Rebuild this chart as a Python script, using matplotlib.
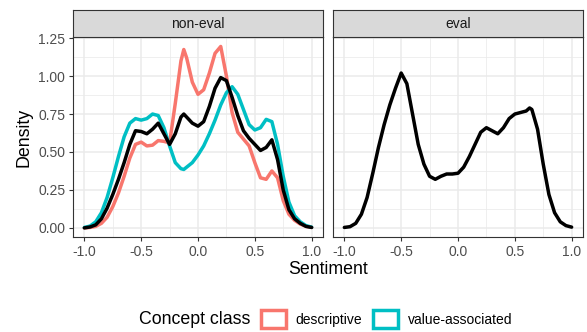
import numpy as np
import matplotlib.pyplot as plt
from matplotlib.patches import Patch

plt.rcParams['font.family'] = ['Liberation Sans', 'DejaVu Sans']

x_ne = [-1.0, -0.95, -0.9, -0.85, -0.8, -0.75, -0.7, -0.65, -0.6, -0.55, -0.5,
        -0.45, -0.4, -0.35, -0.3, -0.25, -0.2, -0.15, -0.125, -0.1, -0.05, 0.0,
        0.05, 0.1, 0.15, 0.2, 0.25, 0.3, 0.35, 0.4, 0.45, 0.5, 0.55, 0.6, 0.65,
        0.7, 0.75, 0.8, 0.85, 0.9, 0.95, 1.0]
descriptive = [0.0, 0.003, 0.01, 0.03, 0.07, 0.14, 0.23, 0.34, 0.46, 0.55, 0.565,
               0.54, 0.545, 0.575, 0.57, 0.56, 0.82, 1.10, 1.175, 1.12, 0.96, 0.88,
               0.91, 1.02, 1.15, 1.195, 1.0, 0.76, 0.63, 0.585, 0.54, 0.43, 0.33, 0.32, 0.375,
               0.33, 0.18, 0.09, 0.05, 0.025, 0.01, 0.003]
value_assoc = [0.003, 0.012, 0.04, 0.1, 0.2, 0.33, 0.47, 0.6, 0.69, 0.72, 0.71,
               0.72, 0.75, 0.74, 0.66, 0.54, 0.43, 0.39, 0.385, 0.40, 0.43, 0.48,
               0.54, 0.62, 0.71, 0.81, 0.89, 0.93, 0.88, 0.78, 0.68, 0.645, 0.66, 0.715, 0.70,
               0.55, 0.34, 0.17, 0.08, 0.04, 0.015, 0.005]
all_ne = [0.0, 0.006, 0.02, 0.06, 0.13, 0.22, 0.32, 0.43, 0.55, 0.64, 0.635,
          0.62, 0.65, 0.69, 0.62, 0.55, 0.62, 0.73, 0.75, 0.73, 0.69, 0.67,
          0.70, 0.80, 0.92, 0.99, 0.97, 0.86, 0.74, 0.64, 0.59, 0.55, 0.51, 0.53, 0.58,
          0.45, 0.25, 0.12, 0.06, 0.03, 0.01, 0.003]

x_ev = [-1.0, -0.95, -0.9, -0.85, -0.8, -0.75, -0.7, -0.65, -0.6, -0.55, -0.5,
        -0.45, -0.4, -0.35, -0.3, -0.25, -0.2, -0.15, -0.1, -0.05, 0.0,
        0.05, 0.1, 0.15, 0.2, 0.25, 0.3, 0.35, 0.4, 0.45, 0.5, 0.55, 0.6, 0.63, 0.65,
        0.7, 0.75, 0.8, 0.85, 0.9, 0.95, 1.0]
all_ev = [0.003, 0.008, 0.03, 0.09, 0.2, 0.36, 0.53, 0.68, 0.81, 0.92, 1.02,
          0.95, 0.75, 0.55, 0.42, 0.34, 0.32, 0.34, 0.355, 0.355, 0.36,
          0.40, 0.47, 0.55, 0.63, 0.66, 0.64, 0.62, 0.66, 0.72, 0.75, 0.76, 0.77, 0.79, 0.78,
          0.65, 0.42, 0.22, 0.10, 0.04, 0.015, 0.005]

panels = ['non-eval', 'eval']
classes = ['descriptive', 'value-associated']
colors = ['#F8766D', '#00BFC4']

W, H = 587, 332
fig = plt.figure(figsize=(W / 100, H / 100), dpi=100)

def box(x0, y0, x1, y1):
    # pixel box (top-left origin) -> figure fraction
    return [x0 / W, 1 - y1 / H, (x1 - x0) / W, (y1 - y0) / H]

lw = 2.5
axes = []
for i, (xl, xr) in enumerate([(73, 323), (333, 583)]):
    ax = fig.add_axes(box(xl, 37, xr, 237))
    ax.set_xlim(-1.1, 1.1)
    ax.set_ylim(-0.06, 1.2575)
    ax.set_xticks([-1.0, -0.5, 0.0, 0.5, 1.0])
    ax.set_xticklabels(['-1.0', '-0.5', '0.0', '0.5', '1.0'])
    ax.set_xticks([-0.75, -0.25, 0.25, 0.75], minor=True)
    ax.set_yticks([0, 0.25, 0.5, 0.75, 1.0, 1.25])
    ax.set_yticklabels(['0.00', '0.25', '0.50', '0.75', '1.00', '1.25'])
    ax.set_yticks([0.125, 0.375, 0.625, 0.875, 1.125], minor=True)
    ax.grid(which='major', color='#EBEBEB', lw=1.1)
    ax.grid(which='minor', color='#EBEBEB', lw=0.55)
    ax.set_axisbelow(True)
    for s in ax.spines.values():
        s.set_color('#333333')
        s.set_linewidth(0.8)
    ax.tick_params(which='major', length=3, width=0.8, color='#333333',
                   labelsize=10, labelcolor='#4D4D4D', pad=2.5)
    ax.tick_params(which='minor', length=0)
    if i == 1:
        ax.tick_params(labelleft=False, left=False)
    # strip
    sax = fig.add_axes(box(xl, 10, xr, 37))
    sax.set_xticks([]); sax.set_yticks([])
    sax.set_facecolor('#D9D9D9')
    for s in sax.spines.values():
        s.set_color('#333333')
        s.set_linewidth(0.8)
    sax.text(0.5, 0.5, panels[i], ha='center', va='center', fontsize=10,
             color='#1A1A1A', transform=sax.transAxes)
    axes.append(ax)

axes[0].plot(x_ne, descriptive, color=colors[0], lw=lw, solid_capstyle='round')
axes[0].plot(x_ne, value_assoc, color=colors[1], lw=lw, solid_capstyle='round')
axes[0].plot(x_ne, all_ne, color='black', lw=lw, solid_capstyle='round')
axes[1].plot(x_ev, all_ev, color='black', lw=lw, solid_capstyle='round')

fig.text(328 / W, 1 - 269 / H, 'Sentiment', ha='center', va='center', fontsize=12.8)
fig.text(24 / W, 1 - 137 / H, 'Density', ha='center', va='center', rotation=90, fontsize=12.8)

fig.text(139 / W, 1 - 320 / H, 'Concept class', ha='left', va='center', fontsize=12.8)
handles = [Patch(facecolor='white', edgecolor=c, lw=lw) for c in colors]
fig.legend(handles, classes, loc='center left', bbox_to_anchor=(261 / W, 1 - 319 / H),
           ncol=2, frameon=False, fontsize=10, handlelength=1.8, handleheight=1.7,
           handletextpad=0.7, columnspacing=0.75, borderpad=0, borderaxespad=0)

fig.savefig('out.png', dpi=100)
